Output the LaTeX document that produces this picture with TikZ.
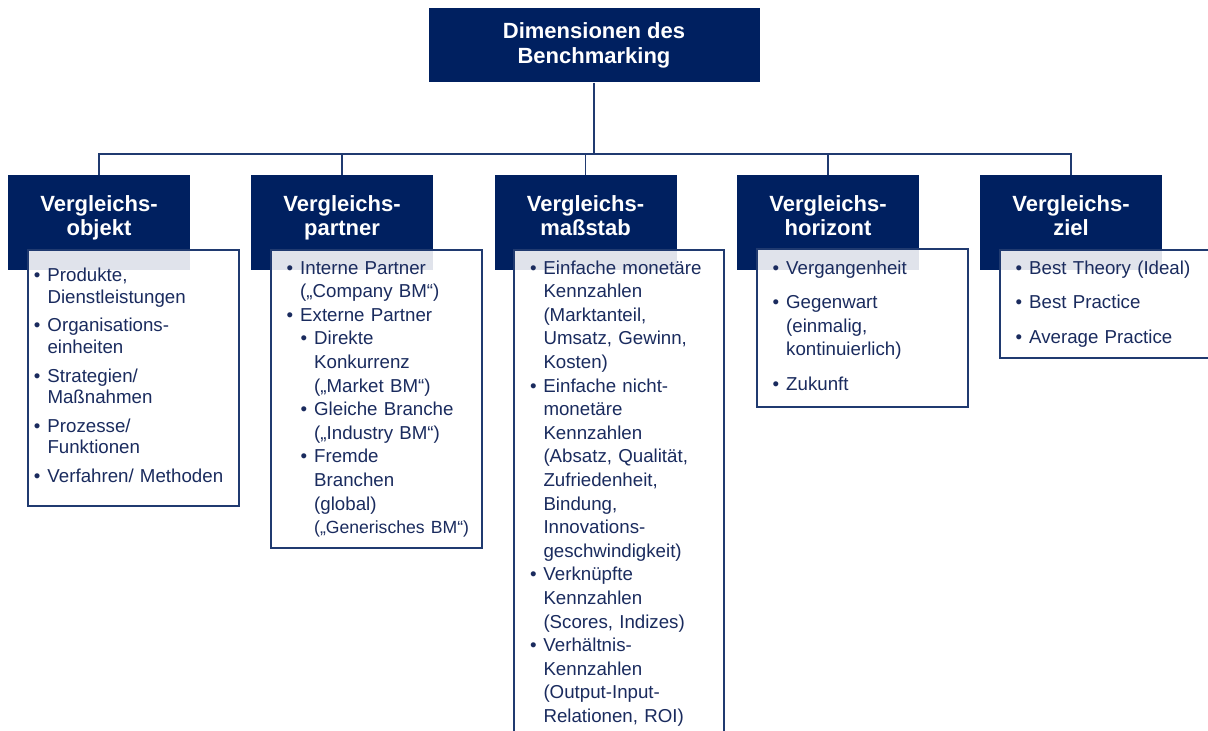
\documentclass[tikz,border=0pt]{standalone}
\usepackage{fontspec}
\setmainfont{Liberation Sans}
\newfontfamily\listfont{Liberation Sans}[WordSpace=1.4]
\usepackage{xcolor}
\definecolor{navy}{HTML}{002060}
\definecolor{navytext}{HTML}{1A2B5E}
\definecolor{navyline}{HTML}{203A70}
\newcommand{\bul}{\makebox[13.5pt][l]{\textbullet}}
\newcommand{\ind}{\hspace*{13.5pt}}
\newcommand{\subbul}{\hspace*{14pt}\bul}
\newcommand{\subind}{\hspace*{27.5pt}}
\tikzset{
  hdr/.style={fill=navy, minimum width=182, minimum height=95, inner sep=0},
  htxt/.style={text=white, font=\bfseries\fontsize{22}{24.2}\selectfont, text width=182, align=center, inner sep=0, anchor=base},
  cbox/.style={draw=navyline, line width=1.5, fill=white, fill opacity=0.88, anchor=north west, inner sep=0},
  itm/.style={text=navytext, font=\listfont\fontsize{18.7}{23.6}\selectfont, text width=205, align=left, inner sep=0, anchor=base west},
  conn/.style={draw=navyline, line width=1.6}
}

\begin{document}
\begin{tikzpicture}[x=1pt,y=-1pt]
  \useasboundingbox (0,0) rectangle (1208,731);
  \clip (0,0) rectangle (1208,731);
  \node[hdr, minimum width=331, minimum height=74, text=white, align=center,
        font=\bfseries\fontsize{22}{24.4}\selectfont] (dim) at (594,45.3) {Dimensionen des\\Benchmarking};
  \coordinate (jn) at (594,154);
  \draw[conn] (dim.south) -- (jn);
  \foreach \n/\x/\t in {1/99/objekt, 2/342/partner, 3/585.5/maßstab, 4/828/horizont, 5/1071/ziel}{
    \draw[conn] (\x,175) coordinate (s\n) |- (jn);
    \node[hdr] (h\n) at (\x,222.5) {};
    \node[htxt] (ht\n) at (\x,211.7) {Vergleichs-\\\t};
  }
  \node[cbox, minimum width=211, minimum height=256] (c1) at (27,249) {};
  \node[cbox, minimum width=211, minimum height=298] (c2) at (270,249) {};
  \node[cbox, minimum width=210, minimum height=500] (c3) at (513,249) {};
  \node[cbox, minimum width=211, minimum height=158] (c4) at (756,248) {};
  \node[cbox, minimum width=260, minimum height=108] (c5) at (999,249) {};
  % Listen
  \node[itm, font=\listfont\fontsize{18.7}{21.6}\selectfont] (t1) at (33.8,281.7)
    {\bul Produkte,\\ \ind Dienstleistungen\\[7pt]
     \bul Organisations-\\ \ind einheiten\\[7pt]
     \bul Strategien/\\ \ind Maßnahmen\\[7pt]
     \bul Prozesse/\\ \ind Funktionen\\[7pt]
     \bul Verfahren/ Methoden};
  \node[itm] (t2) at (286.5,274)
    {\bul Interne Partner\\ \ind („Company BM“)\\
     \bul Externe Partner\\
     \subbul Direkte\\ \subind Konkurrenz\\ \subind („Market BM“)\\
     \subbul Gleiche Branche\\ \subind („Industry BM“)\\
     \subbul Fremde\\ \subind Branchen\\ \subind (global)\\
     \subind {\fontsize{17.6}{23.6}\selectfont („Generisches BM“)}};
  \node[itm] (t3) at (529.8,274)
    {\bul Einfache monetäre\\ \ind Kennzahlen\\ \ind (Marktanteil,\\ \ind Umsatz, Gewinn,\\ \ind Kosten)\\
     \bul Einfache nicht-\\ \ind monetäre\\ \ind Kennzahlen\\ \ind (Absatz, Qualität,\\ \ind Zufriedenheit,\\
     \ind Bindung,\\ \ind Innovations-\\ \ind geschwindigkeit)\\
     \bul Verknüpfte\\ \ind Kennzahlen\\ \ind (Scores, Indizes)\\
     \bul Verhältnis-\\ \ind Kennzahlen\\ \ind (Output-Input-\\ \ind Relationen, ROI)};
  \node[itm] (t4) at (772.5,274)
    {\bul Vergangenheit\\[11pt]
     \bul Gegenwart\\ \ind (einmalig,\\ \ind kontinuierlich)\\[11pt]
     \bul Zukunft};
  \node[itm] (t5) at (1015.5,274)
    {\bul Best Theory (Ideal)\\[11pt]
     \bul Best Practice\\[11pt]
     \bul Average Practice};
\end{tikzpicture}
\end{document}
